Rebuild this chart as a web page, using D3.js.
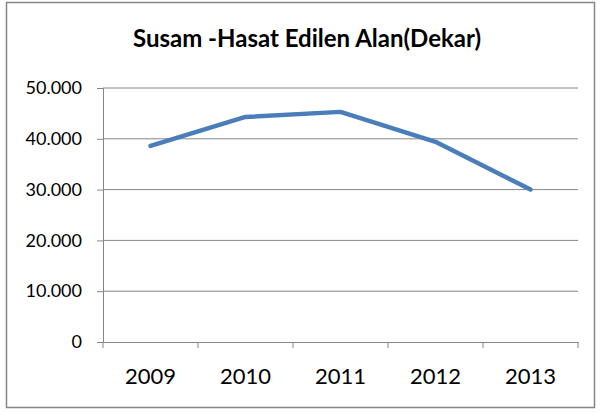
<!DOCTYPE html>
<html><head><meta charset="utf-8">
<script src="https://cdn.jsdelivr.net/npm/d3@7"></script>
<style>body{margin:0;background:#fff}svg{display:block}</style>
</head><body>
<script>
const years = ["2009","2010","2011","2012","2013"];
const values = [38600, 44300, 45300, 39400, 30000];
const yTicks = [0, 10000, 20000, 30000, 40000, 50000];
const title = "Susam -Hasat Edilen Alan(Dekar)";

(function () {
const W = 600, H = 412;
const svg = d3.select("body").append("svg").attr("width", W).attr("height", H);
svg.append("rect").attr("x", 6.5).attr("y", 2.5).attr("width", 588).attr("height", 405)
  .attr("fill", "#fff").attr("stroke", "#868686").attr("stroke-width", 1.5);

const mLeft = 103, mRight = 578, mTop = 88, mBottom = 342;
const x = d3.scaleBand().domain(years).range([mLeft, mRight]);
const y = d3.scaleLinear().domain([0, 50000]).range([mBottom, mTop]);
const fmt = v => v === 0 ? "0" : d3.format(",")(v).replace(/,/g, ".");
const ff = "Lato, 'Open Sans', sans-serif";

svg.append("text").attr("x", 307).attr("y", 47).attr("text-anchor", "middle")
  .attr("font-family", ff).attr("font-weight", "bold")
  .attr("font-size", 24).attr("fill", "#000").text(title);

svg.append("g").selectAll("line").data(yTicks.filter(d => d > 0)).join("line")
  .attr("x1", mLeft).attr("x2", mRight).attr("y1", d => y(d)).attr("y2", d => y(d))
  .attr("stroke", "#868686").attr("stroke-width", 1);

const yAxis = svg.append("g").attr("transform", `translate(${mLeft},0)`)
  .call(d3.axisLeft(y).tickValues(yTicks).tickFormat(fmt).tickSize(6).tickPadding(15));
yAxis.select(".domain").attr("stroke", "#868686");
yAxis.selectAll(".tick line").attr("stroke", "#868686");
yAxis.selectAll("text").attr("font-family", ff).attr("font-size", 18).attr("fill", "#000");

const xAxis = svg.append("g").attr("transform", `translate(0,${mBottom})`)
  .call(d3.axisBottom(x).tickSize(0));
xAxis.select(".domain").attr("stroke", "#868686");
xAxis.selectAll("text").attr("font-family", ff).attr("font-size", 22).attr("fill", "#000")
  .attr("y", 42).attr("dy", 0);
const bounds = years.map(d => x(d)).concat([x(years[years.length-1]) + x.bandwidth()]);
svg.append("g").selectAll("line").data(bounds).join("line")
  .attr("x1", d => d).attr("x2", d => d).attr("y1", mBottom).attr("y2", mBottom + 6)
  .attr("stroke", "#868686");

const line = d3.line().x((d, i) => x(years[i]) + x.bandwidth() / 2).y(d => y(d));
svg.append("path").datum(values).attr("d", line).attr("fill", "none")
  .attr("stroke", "#4a7ebb").attr("stroke-width", 4.5).attr("stroke-linecap", "round").attr("stroke-linejoin", "round");
})();
</script>
</body></html>
